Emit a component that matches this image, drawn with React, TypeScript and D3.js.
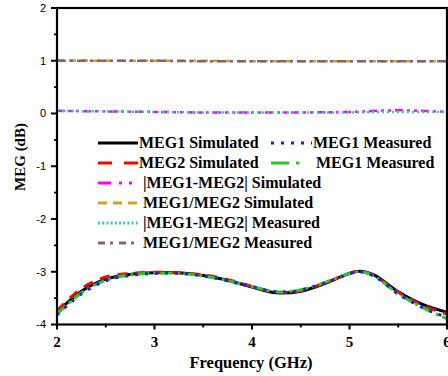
import React from 'react';
import * as d3 from 'd3';

const freq = [2.0, 2.25, 2.5, 2.75, 3.0, 3.25, 3.5, 3.75, 4.0, 4.25, 4.5, 4.75, 5.0, 5.1, 5.25, 5.5, 5.75, 6.0];
const meg1Sim = [-3.77, -3.37, -3.14, -3.05, -3.02, -3.02, -3.07, -3.16, -3.29, -3.40, -3.37, -3.22, -3.03, -2.99, -3.06, -3.38, -3.62, -3.77];
const meg2Sim = [-3.74, -3.32, -3.10, -3.03, -3.01, -3.02, -3.06, -3.15, -3.28, -3.39, -3.36, -3.21, -3.03, -2.99, -3.07, -3.39, -3.64, -3.80];
const meg1Meas = [-3.82, -3.42, -3.17, -3.07, -3.03, -3.03, -3.08, -3.17, -3.28, -3.38, -3.35, -3.21, -3.04, -3.0, -3.08, -3.42, -3.68, -3.87];
const meg2Meas = [-3.80, -3.40, -3.16, -3.06, -3.03, -3.03, -3.08, -3.17, -3.28, -3.38, -3.34, -3.20, -3.03, -3.0, -3.08, -3.42, -3.68, -3.89];

const freq2 = [2.0, 2.5, 3.0, 3.5, 4.0, 4.5, 5.0, 5.5, 6.0];
const ratioSim = [1.01, 1.0, 1.0, 1.0, 0.99, 0.99, 0.99, 0.99, 0.99];
const ratioMeas = [1.0, 1.0, 1.0, 0.99, 0.99, 0.99, 0.99, 0.99, 0.99];
const diffSim = [0.05, 0.04, 0.03, 0.02, 0.02, 0.02, 0.03, 0.06, 0.03];
const diffMeas = [0.05, 0.04, 0.03, 0.02, 0.02, 0.02, 0.02, 0.03, 0.03];

const xTicks = [2, 3, 4, 5, 6];
const xMinor = [2.5, 3.5, 4.5, 5.5];
const yTicks = [2, 1, 0, -1, -2, -3, -4];
const yMinor = [1.5, 0.5, -0.5, -1.5, -2.5, -3.5];

type Series = { label: string; xs: number[]; ys: number[]; color: string; dash: string; width: number };

const series: Series[] = [
  { label: '|MEG1-MEG2| Simulated', xs: freq2, ys: diffSim, color: '#ff00ff', dash: '8,4,3,4,3,4', width: 2.5 },
  { label: '|MEG1-MEG2| Measured', xs: freq2, ys: diffMeas, color: '#33cccc', dash: '2,3', width: 2.5 },
  { label: 'MEG1/MEG2 Simulated', xs: freq2, ys: ratioSim, color: '#d4a020', dash: '7,5', width: 2.5 },
  { label: 'MEG1/MEG2 Measured', xs: freq2, ys: ratioMeas, color: '#8a6464', dash: '9,4,3,4', width: 2.5 },
  { label: 'MEG1 Simulated', xs: freq, ys: meg1Sim, color: '#000000', dash: '', width: 3 },
  { label: 'MEG2 Simulated', xs: freq, ys: meg2Sim, color: '#ff0000', dash: '10,8', width: 3 },
  { label: 'MEG1 Measured (2)', xs: freq, ys: meg2Meas, color: '#22cc22', dash: '12,4,3,4', width: 3 },
  { label: 'MEG1 Measured', xs: freq, ys: meg1Meas, color: '#1a1aff', dash: '3,7', width: 3 },
];

type LegendItem = { text: string; color: string; dash: string; x1: number; x2: number; tx: number; row: number };
const legendItems: LegendItem[] = [
  { text: 'MEG1 Simulated', color: '#000000', dash: '', x1: 98, x2: 138, tx: 139, row: 0 },
  { text: 'MEG2 Simulated', color: '#ff0000', dash: '14,12', x1: 98, x2: 138, tx: 139, row: 1 },
  { text: '|MEG1-MEG2| Simulated', color: '#ff00ff', dash: '13,8,3,7,3,7', x1: 98, x2: 138, tx: 143, row: 2 },
  { text: 'MEG1/MEG2 Simulated', color: '#d4a020', dash: '9,6', x1: 98, x2: 138, tx: 143, row: 3 },
  { text: '|MEG1-MEG2| Measured', color: '#33cccc', dash: '2,2.2', x1: 98, x2: 138, tx: 143, row: 4 },
  { text: 'MEG1/MEG2 Measured', color: '#8a6464', dash: '7,5,3,6', x1: 98, x2: 138, tx: 143, row: 5 },
  { text: 'MEG1 Measured', color: '#1a1aff', dash: '3,7', x1: 271, x2: 312, tx: 313, row: 0 },
  { text: 'MEG1 Measured', color: '#22cc22', dash: '18,7,3,20', x1: 271, x2: 312, tx: 316, row: 1 },
];

const W = 448;
const H = 376;
const left = 57;
const right = 447;
const top = 8;
const bottom = 324.5;

export default function App() {
  const x = d3.scaleLinear().domain([2, 6]).range([left, right]);
  const y = d3.scaleLinear().domain([-4, 2]).range([bottom, top]);
  const serif = '"Liberation Serif", "Times New Roman", serif';
  const sans = '"Liberation Sans", Arial, sans-serif';

  return (
    <svg width={W} height={H} style={{ position: 'absolute', left: 0, top: 0, background: '#fff' }}>
      <defs>
        <clipPath id="plot">
          <rect x={left} y={top} width={right - left} height={bottom - top} />
        </clipPath>
      </defs>
      <g clipPath="url(#plot)">
        {series.map((s, i) => {
          const pts: [number, number][] = s.xs.map((xv, j) => [xv, s.ys[j]]);
          const line = d3
            .line<[number, number]>()
            .x((d) => x(d[0]))
            .y((d) => y(d[1]))
            .curve(d3.curveCatmullRom.alpha(0.5));
          return (
            <path
              key={i}
              d={line(pts) || ''}
              fill="none"
              stroke={s.color}
              strokeWidth={s.width}
              strokeDasharray={s.dash || undefined}
            />
          );
        })}
      </g>
      {/* frame */}
      <rect x={left} y={top} width={right - left} height={bottom - top} fill="none" stroke="#000" strokeWidth={2.2} />
      {/* x ticks */}
      {xTicks.map((t) => (
        <g key={'xt' + t}>
          <line x1={x(t)} x2={x(t)} y1={bottom} y2={bottom + 5} stroke="#000" strokeWidth={2} />
          <text x={x(t)} y={bottom + 22} textAnchor="middle" fontFamily={serif} fontWeight="bold" fontSize={15}>
            {t}
          </text>
        </g>
      ))}
      {xMinor.map((t) => (
        <line key={'xm' + t} x1={x(t)} x2={x(t)} y1={bottom} y2={bottom + 3} stroke="#000" strokeWidth={1.8} />
      ))}
      {/* y ticks */}
      {yTicks.map((t) => (
        <g key={'yt' + t}>
          <line x1={left - 6} x2={left} y1={y(t)} y2={y(t)} stroke="#000" strokeWidth={2} />
          <text x={46} y={y(t)} dy="0.36em" textAnchor="end" fontFamily={sans} fontSize={11}>
            {t}
          </text>
        </g>
      ))}
      {yMinor.map((t) => (
        <line key={'ym' + t} x1={left - 3} x2={left} y1={y(t)} y2={y(t)} stroke="#000" strokeWidth={1.8} />
      ))}
      {/* axis titles */}
      <text x={251} y={368} textAnchor="middle" fontFamily={serif} fontWeight="bold" fontSize={16.5}>
        Frequency (GHz)
      </text>
      <text
        transform={`translate(25, ${157}) rotate(-90)`}
        textAnchor="middle"
        fontFamily={serif}
        fontWeight="bold"
        fontSize={15}
      >
        MEG (dB)
      </text>
      {/* legend */}
      {legendItems.map((l, i) => {
        const cy = 143 + l.row * 20;
        return (
          <g key={'lg' + i}>
            <line
              x1={l.x1}
              x2={l.x2}
              y1={cy}
              y2={cy}
              stroke={l.color}
              strokeWidth={2.8}
              strokeDasharray={l.dash || undefined}
            />
            <text x={l.tx} y={cy + 5} fontFamily={serif} fontWeight="bold" fontSize={16}>
              {l.text}
            </text>
          </g>
        );
      })}
    </svg>
  );
}
